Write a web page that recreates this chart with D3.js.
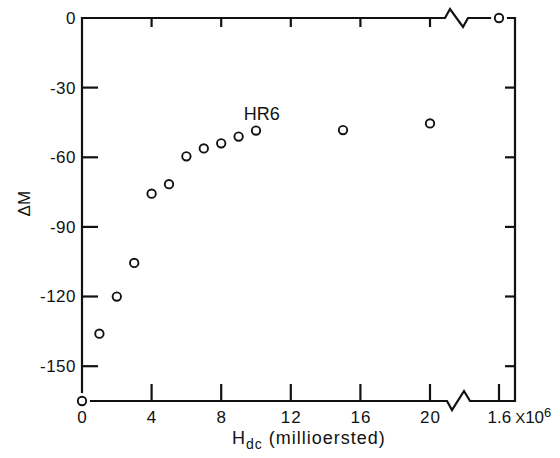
<!DOCTYPE html>
<html lang="en">
<head>
    <meta charset="UTF-8">
    <title>Delta M vs Hdc</title>
    <script src="https://d3js.org/d3.v7.min.js"></script>
    <style>
        body { margin: 0; background: #fff; }
        text { font-family: "Liberation Sans", Arial, sans-serif; fill: #111; }
    </style>
</head>
<body>
    <svg width="560" height="458"></svg>
    <script>
        // data (sample HR6)
        const hdc = [0, 1, 2, 3, 4, 5, 6, 7, 8, 9, 10, 15, 20, 1.6e6];
        const deltaM = [-165, -136, -120, -105.5, -75.7, -71.6, -59.6, -56.2, -54, -51.1, -48.5, -48.3, -45.4, 0];
        const xTicks = [0, 4, 8, 12, 16, 20, 1.6e6];
        const yTicks = [0, -30, -60, -90, -120, -150];

        const W = 560, H = 458;
        const margin = {top: 18, right: 45, bottom: 57, left: 82};
        const pL = margin.left, pR = W - margin.right;
        const pT = margin.top, pB = H - margin.bottom;

        // piecewise x: linear 0..20, then a broken jump to 1.6e6
        const x = d3.scaleLinear().domain([0, 20, 1.6e6]).range([pL, 430, 499]);
        const y = d3.scaleLinear().domain([-165, 0]).range([pB, pT]);

        const svg = d3.select("svg");
        const ink = "#111";

        // frame with axis breaks
        const brk = x(20) + 27;
        const frame = d3.path();
        frame.moveTo(pL, pB); frame.lineTo(pL, pT);
        frame.lineTo(brk - 12, pT);
        frame.lineTo(brk - 7, pT - 9);
        frame.lineTo(brk + 6, pT + 9);
        frame.lineTo(brk + 11, pT);
        frame.lineTo(pR, pT); frame.lineTo(pR, pB);
        frame.lineTo(brk + 13, pB);
        frame.lineTo(brk + 7, pB - 10);
        frame.lineTo(brk - 5, pB + 9);
        frame.lineTo(brk - 10, pB);
        frame.lineTo(pL, pB);
        svg.append("path")
            .attr("d", frame.toString())
            .attr("fill", "none")
            .attr("stroke", ink)
            .attr("stroke-width", 2.2)
            .attr("stroke-linejoin", "miter");

        // inward tick marks: short strokes built from the scales
        const yIn = yTicks.filter(d => d !== 0);
        const segs = [];
        yIn.forEach(d => {
            segs.push([[pL, y(d)], [pL + 16, y(d)]]);
            segs.push([[pR - 10, y(d)], [pR, y(d)]]);
        });
        xTicks.filter(d => d > 0).forEach(d => {
            segs.push([[x(d), pB], [x(d), pB - 17]]);
            if (d <= 20) segs.push([[x(d), pT], [x(d), pT + 9]]);
        });
        svg.append("g").selectAll("path")
            .data(segs).join("path")
            .attr("d", d => `M${d[0][0].toFixed(1)},${d[0][1].toFixed(1)}L${d[1][0].toFixed(1)},${d[1][1].toFixed(1)}`)
            .attr("fill", "none")
            .attr("stroke", ink)
            .attr("stroke-width", 2.2)
            .attr("stroke-linecap", "butt");

        // left axis labels
        const yAxis = svg.append("g")
            .attr("transform", `translate(${pL},0)`)
            .call(d3.axisLeft(y).tickValues(yTicks).tickSize(0).tickPadding(6).tickFormat(d => String(d)));
        yAxis.select(".domain").remove();
        yAxis.selectAll(".tick line").remove();
        yAxis.selectAll("text").attr("font-size", 17).style("letter-spacing", "0.5px");

        // bottom axis labels
        const xAxis = svg.append("g")
            .attr("transform", `translate(0,${pB})`)
            .call(d3.axisBottom(x).tickValues(xTicks).tickSize(0).tickPadding(10).tickFormat(d => d < 100 ? String(d) : ""));
        xAxis.select(".domain").remove();
        xAxis.selectAll(".tick line").remove();
        xAxis.selectAll("text").attr("font-size", 17).style("letter-spacing", "1px");
        const farLab = xAxis.selectAll(".tick").filter(d => d > 100).select("text")
            .attr("text-anchor", "start").attr("x", -12).style("letter-spacing", "0px");
        farLab.append("tspan").text("1.6");
        farLab.append("tspan").attr("dx", 4).attr("font-size", 15).text("X");
        farLab.append("tspan").text("10");
        farLab.append("tspan").attr("dy", "-0.45em").attr("font-size", 13).text("6");

        // points
        const pts = d3.zip(hdc, deltaM);
        svg.append("g").selectAll("circle")
            .data(pts).join("circle")
            .attr("cx", d => x(d[0])).attr("cy", d => y(d[1]))
            .attr("r", 8).attr("fill", "#fff");
        svg.append("g").selectAll("circle")
            .data(pts).join("circle")
            .attr("cx", d => x(d[0])).attr("cy", d => y(d[1]))
            .attr("r", 4.2)
            .attr("fill", "#fff")
            .attr("stroke", ink)
            .attr("stroke-width", 1.9);

        // sample label
        svg.append("text")
            .attr("x", x(9.3)).attr("y", y(-44))
            .attr("font-size", 18)
            .text("HR6");

        // axis titles
        svg.append("text")
            .attr("transform", `translate(30,${y(-80)}) rotate(-90)`)
            .attr("text-anchor", "middle")
            .attr("font-size", 17)
            .text("ΔM");

        const xt = svg.append("text")
            .attr("x", 232).attr("y", pB + 43)
            .attr("font-size", 18)
            .style("letter-spacing", "1px");
        xt.append("tspan").text("H");
        xt.append("tspan").attr("dy", 5).attr("font-size", 14).text("dc");
        xt.append("tspan").attr("dy", -5).text("  (millioersted)");
    </script>
</body>
</html>
